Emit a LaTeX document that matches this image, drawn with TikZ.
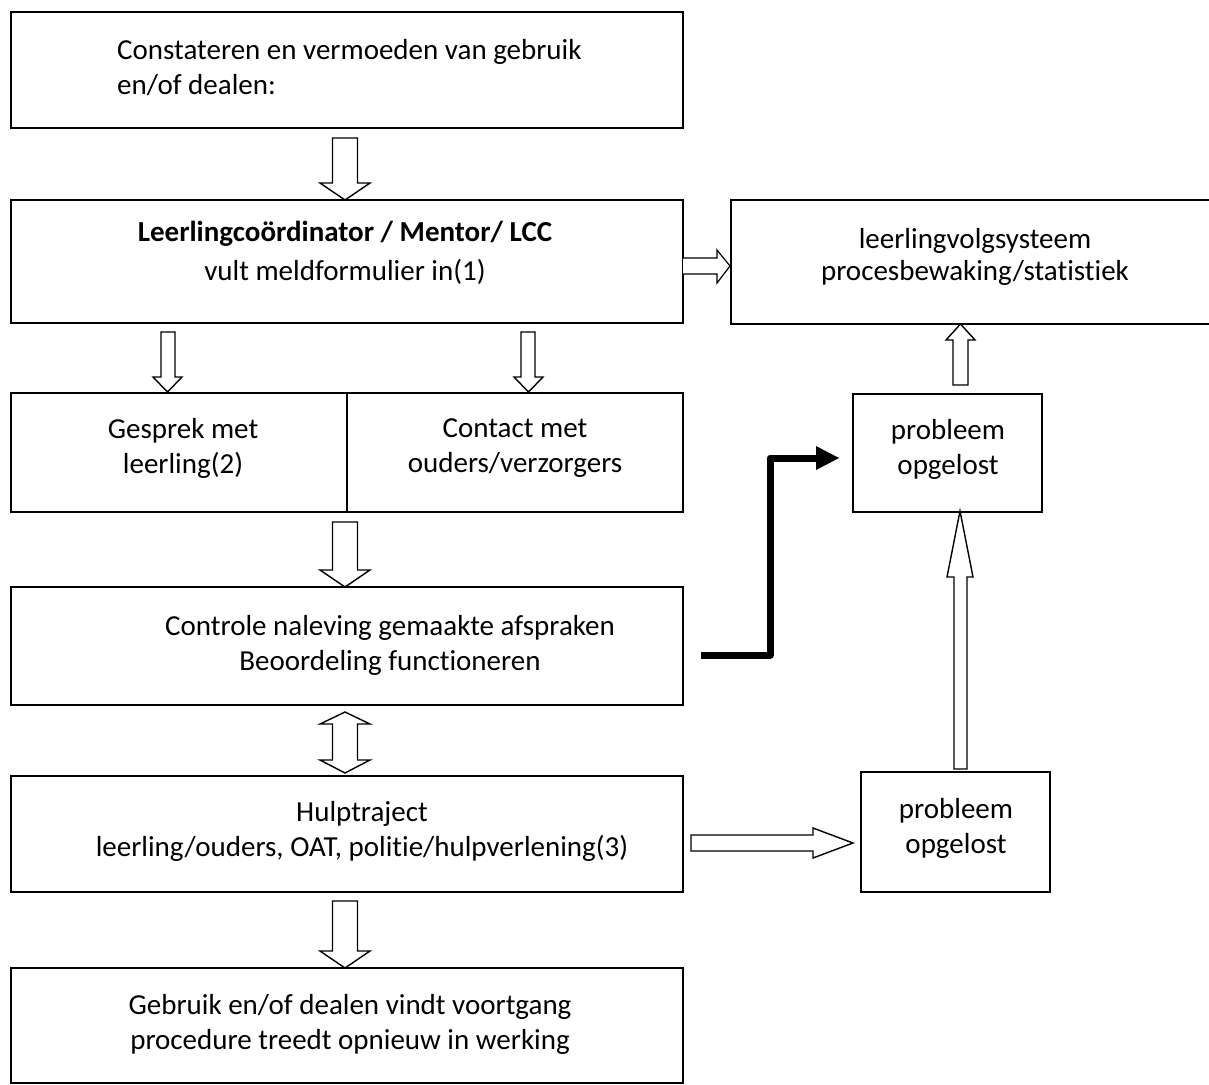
\documentclass[tikz,border=0pt]{standalone}
\usepackage{fontspec}
\setmainfont[Ligatures=NoCommon]{Carlito}
\begin{document}
\begin{tikzpicture}[x=1pt,y=-1pt,
  box/.style={draw, line width=1.6pt, inner sep=0pt, outer sep=0pt, anchor=north west},
  txt/.style={font=\fontsize{29}{35}\selectfont, align=center, inner sep=0pt},
  barrow/.style={draw, line width=1.4pt, fill=white, line join=miter},
  thick arrow/.style={draw, line width=7pt, line join=round}]
\useasboundingbox (0,0) rectangle (1209,1084);
% boxes
\node[box, minimum width=672pt, minimum height=116pt] (b1) at (11,12) {};
\node[box, minimum width=672pt, minimum height=123pt] (b2) at (11,200) {};
\node[box, minimum width=480pt, minimum height=124pt] (r1) at (731,200) {};
\node[box, minimum width=672pt, minimum height=119pt] (b3) at (11,393) {};
\draw[line width=1.6pt] (347,393) -- (347,512);
\node[box, minimum width=672pt, minimum height=118pt] (b4) at (11,587) {};
\node[box, minimum width=672pt, minimum height=116pt] (b5) at (11,776) {};
\node[box, minimum width=672pt, minimum height=115pt] (b6) at (11,968) {};
\node[box, minimum width=189pt, minimum height=118pt] (p1) at (853,394) {};
\node[box, minimum width=189pt, minimum height=120pt] (p2) at (861,772) {};
% texts
\node[txt, align=left, anchor=west] (t1) at (117,68) {Constateren en vermoeden van gebruik\\en/of dealen:};
\node[txt, font=\fontsize{29}{39}\selectfont] (t2) at (345,253) {\textbf{Leerlingcoördinator / Mentor/ LCC}\\vult meldformulier in(1)};
\node[txt, font=\fontsize{29}{32}\selectfont] (tr1) at (975,257) {leerlingvolgsysteem\\procesbewaking/statistiek};
\node[txt] (t3a) at (183,448) {Gesprek met\\leerling(2)};
\node[txt] (t3b) at (515,448) {Contact met\\ouders/verzorgers};
\node[txt] (t4) at (390,645) {Controle naleving gemaakte afspraken\\Beoordeling functioneren};
\node[txt] (t5) at (362,831) {Hulptraject\\leerling/ouders, OAT, politie/hulpverlening(3)};
\node[txt] (t6) at (350,1024) {Gebruik en/of dealen vindt voortgang\\procedure treedt opnieuw in werking};
\node[txt] (tp1) at (948,449) {probleem\\opgelost};
\node[txt] (tp2) at (956,828) {probleem\\opgelost};
% block arrows down
\draw[barrow] (332.5,138) -- (357.5,138) -- (357.5,183) -- (370,183) -- (345,200) -- (320,183) -- (332.5,183) -- cycle;
\draw[barrow] (161,332) -- (175,332) -- (175,377) -- (182,377) -- (167.5,392) -- (153,377) -- (161,377) -- cycle;
\draw[barrow] (521,332) -- (535,332) -- (535,377) -- (543,377) -- (528.5,392) -- (514,377) -- (521,377) -- cycle;
\draw[barrow] (332.5,522) -- (357.5,522) -- (357.5,570) -- (370,570) -- (345,587) -- (320,570) -- (332.5,570) -- cycle;
\draw[barrow] (332.5,901) -- (357.5,901) -- (357.5,951) -- (370,951) -- (345,968) -- (320,951) -- (332.5,951) -- cycle;
% double arrow
\draw[barrow] (345,712) -- (370,724) -- (357.5,724) -- (357.5,760) -- (370,760) -- (345,773) -- (320,760) -- (332.5,760) -- (332.5,724) -- (320,724) -- cycle;
% right arrow b2 -> r1
\draw[barrow, line width=1.2pt] (683,258) -- (717,258) -- (717,250) -- (730,266) -- (717,283) -- (717,274) -- (683,274);
% up arrow p1 -> r1
\draw[barrow] (953,385) -- (953,340) -- (946,340) -- (960.5,324) -- (975,340) -- (968,340) -- (968,385) -- cycle;
% tall up arrow p2 -> p1
\draw[barrow] (954,769) -- (954,577) -- (947,577) -- (960,511) -- (973,577) -- (967,577) -- (967,769) -- cycle;
% horizontal arrow b5 -> p2
\draw[barrow] (691,835) -- (813,835) -- (813,828) -- (853,843) -- (813,858) -- (813,851) -- (691,851) -- cycle;
% thick arrow b4 -> p1
\draw[thick arrow] (701,655) -- (770,655) -- (770,458) -- (818,458);
\fill (816,446) -- (839,458) -- (816,470) -- cycle;
\end{tikzpicture}
\end{document}
